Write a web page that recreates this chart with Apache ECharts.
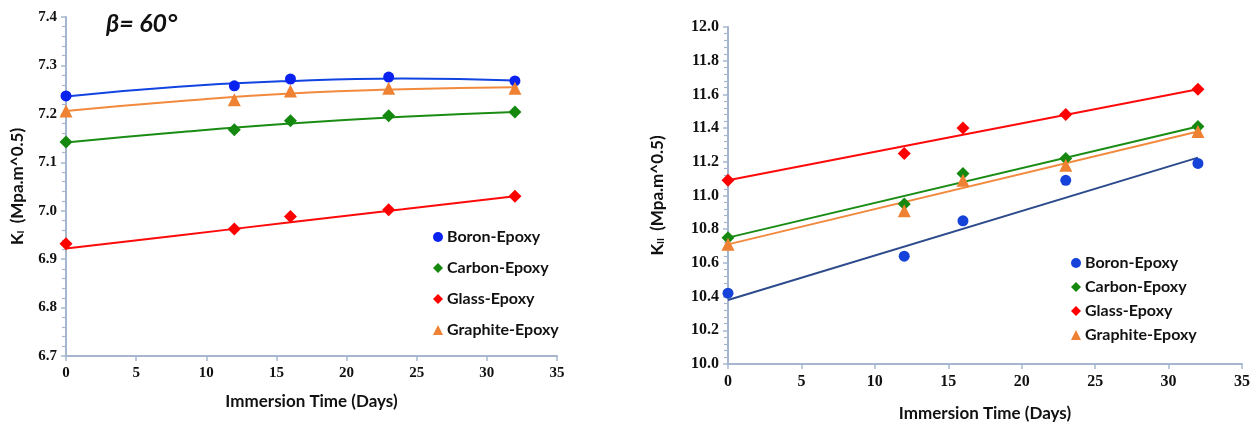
<!DOCTYPE html>
<html>
<head>
<meta charset="utf-8">
<script src="https://cdn.jsdelivr.net/npm/echarts@6/dist/echarts.min.js"></script>
<style>
html,body{margin:0;padding:0;background:#fff;}
#chart{width:1259px;height:427px;}
</style>
</head>
<body>
<div id="chart"></div>
<script>
// ---- data ----
const days = [0, 12, 16, 23, 32];
const seriesNames = ['Boron-Epoxy', 'Carbon-Epoxy', 'Glass-Epoxy', 'Graphite-Epoxy'];

// Left panel: K_I
const kI_boron    = [7.237, 7.258, 7.272, 7.276, 7.268];
const kI_carbon   = [7.142, 7.167, 7.186, 7.196, 7.204];
const kI_glass    = [6.932, 6.962, 6.988, 7.002, 7.030];
const kI_graphite = [7.206, 7.229, 7.247, 7.253, 7.253];
// trend curves
const kIFitDays = [0, 8, 16, 24, 32];
const kI_fit_boron    = [7.236, 7.256, 7.268, 7.273, 7.269];
const kI_fit_carbon   = [7.141, 7.162, 7.180, 7.194, 7.204];
const kI_fit_glass    = [6.922, 6.949, 6.976, 7.003, 7.030];
const kI_fit_graphite = [7.206, 7.226, 7.242, 7.251, 7.255];

// Right panel: K_II
const kII_boron    = [10.42, 10.64, 10.85, 11.09, 11.19];
const kII_carbon   = [10.75, 10.95, 11.13, 11.22, 11.41];
const kII_glass    = [11.09, 11.25, 11.40, 11.48, 11.63];
const kII_graphite = [10.71, 10.91, 11.09, 11.18, 11.38];
// linear trend lines
const kIIFitDays = [0, 32];
const kII_fit_boron    = [10.38, 11.225];
const kII_fit_carbon   = [10.75, 11.41];
const kII_fit_glass    = [11.09, 11.63];
const kII_fit_graphite = [10.71, 11.38];

// tick settings
const xTicks = {min: 0, max: 35, interval: 5};
const kITicks = {min: 6.7, max: 7.4, interval: 0.1};
const kIITicks = {min: 10.0, max: 12.0, interval: 0.2};

// ---- styling ----
const symbols = ['circle', 'diamond', 'diamond', 'triangle'];
const leftPointColors  = ['#0a22f0', '#14880f', '#ff0000', '#ee8232'];
const leftLineColors   = ['#1244e2', '#1a8c14', '#ff0a0a', '#f28a3e'];
const rightPointColors = ['#1542d8', '#14880f', '#ff0000', '#ee8232'];
const rightLineColors  = ['#2d4b8c', '#1a8c14', '#ff0a0a', '#f28a3e'];
const symbolSizes = [11, 13, 13, 13];

const axisColor = '#a7b6cf';
const serif = '"Liberation Serif", "Times New Roman", serif';
const titleFont = 'Lato, "Open Sans", sans-serif';

function zip(xs, ys){ return xs.map((x,i)=>[x, ys[i]]); }

function xAxis(gridIndex, nameGap){
  return {
    type: 'value', gridIndex, min: xTicks.min, max: xTicks.max, interval: xTicks.interval,
    name: 'Immersion Time (Days)', nameLocation: 'middle', nameGap,
    nameTextStyle: {fontFamily: titleFont, fontWeight: 'bold', fontSize: 17, color: '#111'},
    axisLine: {show: true, onZero: false, lineStyle: {color: axisColor, width: 2}},
    axisTick: {show: true, length: 5, lineStyle: {color: axisColor, width: 1.5}},
    splitLine: {show: false},
    axisLabel: {fontFamily: serif, fontWeight: 'bold', color: '#111', fontSize: gridIndex === 0 ? 15 : 16, margin: 10}
  };
}
function yAxis(gridIndex, ticks, sub, nameGap){
  return {
    type: 'value', gridIndex, min: ticks.min, max: ticks.max, interval: ticks.interval,
    name: '{k|K}{s|' + sub + '}{k| (Mpa.m^0.5)}', nameLocation: 'middle', nameGap, nameRotate: 90,
    nameTextStyle: {
      rich: {
        k: {fontFamily: titleFont, fontWeight: 'bold', fontSize: 17, color: '#111', verticalAlign: 'bottom', lineHeight: 20},
        s: {fontFamily: titleFont, fontWeight: 'bold', fontSize: 10, color: '#111', verticalAlign: 'bottom', lineHeight: 14, padding: [0, 3, 0, 0]}
      }
    },
    axisLine: {show: true, onZero: false, lineStyle: {color: axisColor, width: 2}},
    axisTick: {show: true, length: 5, lineStyle: {color: axisColor, width: 1.5}},
    minorTick: {show: true, splitNumber: 5, length: 4, lineStyle: {color: axisColor, width: 1.2}},
    splitLine: {show: false},
    axisLabel: {fontFamily: serif, fontWeight: 'bold', color: '#111', fontSize: gridIndex === 0 ? 15 : 16, margin: 9, formatter: v => v.toFixed(1)}
  };
}

const leftPoints = [kI_boron, kI_carbon, kI_glass, kI_graphite];
const leftFits = [kI_fit_boron, kI_fit_carbon, kI_fit_glass, kI_fit_graphite];
const rightPoints = [kII_boron, kII_carbon, kII_glass, kII_graphite];
const rightFits = [kII_fit_boron, kII_fit_carbon, kII_fit_glass, kII_fit_graphite];

const series = [];
seriesNames.forEach((name, i) => {
  series.push({
    type: 'line', name: name + ' fit L', xAxisIndex: 0, yAxisIndex: 0,
    data: zip(kIFitDays, leftFits[i]), smooth: 0.5, showSymbol: false, silent: true,
    lineStyle: {color: leftLineColors[i], width: 2}, z: 2
  });
  series.push({
    type: 'scatter', name, xAxisIndex: 0, yAxisIndex: 0,
    data: zip(days, leftPoints[i]), symbol: symbols[i], symbolSize: symbolSizes[i],
    itemStyle: {color: leftPointColors[i], opacity: 1}, z: 3
  });
});
seriesNames.forEach((name, i) => {
  series.push({
    type: 'line', name: name + ' fit R', xAxisIndex: 1, yAxisIndex: 1,
    data: zip(kIIFitDays, rightFits[i]), showSymbol: false, silent: true,
    lineStyle: {color: rightLineColors[i], width: 2}, z: 2
  });
  series.push({
    type: 'scatter', name, xAxisIndex: 1, yAxisIndex: 1,
    data: zip(days, rightPoints[i]), symbol: symbols[i], symbolSize: symbolSizes[i],
    itemStyle: {color: rightPointColors[i], opacity: 1}, z: 3
  });
});

function legend(left, top, gap, colors){
  return {
    left, top, orient: 'vertical', itemWidth: 10, itemHeight: 10, itemGap: gap,
    selectedMode: false,
    textStyle: {fontFamily: titleFont, fontWeight: 'bold', fontSize: 16, color: '#111', padding: [0,0,0,-1]},
    data: seriesNames.map((n, i) => ({name: n, icon: symbols[i], itemStyle: {color: colors[i], opacity: 1}}))
  };
}

const option = {
  animation: false,
  backgroundColor: '#fff',
  grid: [
    {left: 66, right: 702, top: 17, bottom: 71},
    {left: 728, right: 17, top: 27, bottom: 61}
  ],
  xAxis: [xAxis(0, 37), xAxis(1, 41)],
  yAxis: [yAxis(0, kITicks, 'I', 40), yAxis(1, kIITicks, 'II', 62)],
  legend: [legend(428, 224, 15, leftPointColors), legend(1066, 250, 8, rightPointColors)],
  graphic: [{
    type: 'text', left: 106, top: 11,
    style: {text: 'β= 60°', fontFamily: titleFont, fontWeight: 'bold', fontStyle: 'italic', fontSize: 25, fill: '#111'}
  }],
  series
};

const chart = echarts.init(document.getElementById('chart'), null, {renderer: 'canvas'});
chart.setOption(option);
</script>
</body>
</html>
